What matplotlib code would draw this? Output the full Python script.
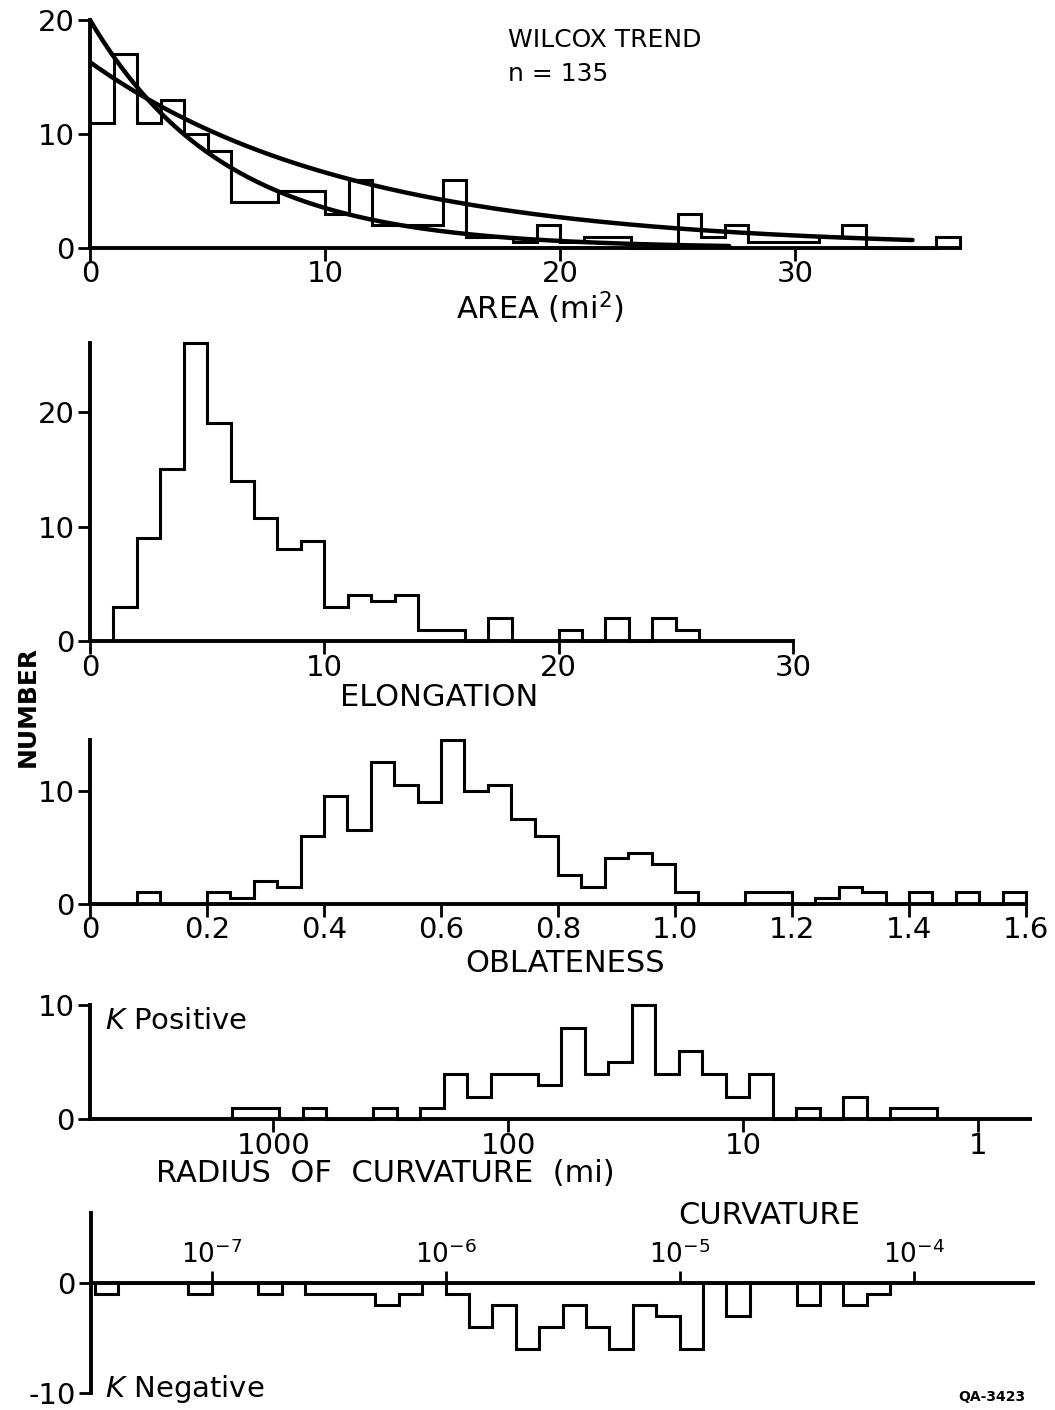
import numpy as np
import matplotlib
matplotlib.use('Agg')
import matplotlib.pyplot as plt
from matplotlib.ticker import FixedLocator, FixedFormatter, NullLocator

# ---- data -------------------------------------------------------------
# area histogram, 1 mi^2 classes from 0 to 37
area_edges = list(range(0, 38))
area_counts = [11, 17, 11, 13, 10, 8.5, 4, 4, 5, 5, 3, 6, 2, 2, 2, 6, 1, 1, 0.5, 2,
               0.5, 1, 1, 0, 0, 3, 1, 2, 0.5, 0.5, 0.5, 1, 2, 0, 0, 0, 1]
# fitted exponential trends: (value at 0, decay per mi^2, last area drawn)
area_fit_upper = (16.3, 0.09, 35.0)
area_fit_lower = (20.0, 0.174, 27.2)

# elongation histogram, unit classes from 1 to 26
elong_edges = list(range(1, 27))
elong_counts = [3, 9, 15, 26, 19, 14, 10.7, 8, 8.7, 3, 4, 3.5, 4, 1, 1, 0, 2, 0, 0, 1,
                0, 2, 0, 2, 1]

# oblateness histogram, 0.04 classes from 0 to 1.6
oblate_edges = [round(0.04 * i, 2) for i in range(41)]
oblate_counts = [0, 0, 1, 0, 0, 1, 0.5, 2, 1.5, 6, 9.5, 6.5, 12.5, 10.5, 9, 14.5, 10,
                 10.5, 7.5, 6, 2.5, 1.5, 4, 4.5, 3.5, 1, 0, 0, 1, 1, 0, 0.5, 1.5, 1,
                 0, 1, 0, 1, 0, 1]

# radius of curvature (positive K), tenth-decade classes, log10(mi) from 3.175 down
radius_log_edges = [round(3.175 - 0.1 * i, 3) for i in range(31)]
radius_counts = [1, 1, 0, 1, 0, 0, 1, 0, 1, 4, 2, 4, 4, 3, 8, 4, 5, 10, 4, 6,
                 4, 2, 4, 0, 1, 0, 2, 0, 1, 1]

# curvature (negative K), tenth-decade classes from 10^-7.5 to 10^-4.1
curv_log_edges = [round(-7.5 + 0.1 * i, 2) for i in range(35)]
curv_counts = [-1, 0, 0, 0, -1, 0, 0, -1, 0, -1, -1, -1, -2, -1, 0, -1, -4, -2, -6, -4,
               -2, -4, -6, -2, -3, -6, 0, -3, 0, 0, -2, 0, -2, -1]

radius_ticks = [1000, 100, 10, 1]
radius_labels = ['1000', '100', '10', '1']
curv_ticks = [1e-7, 1e-6, 1e-5, 1e-4]
curv_labels = ['10$^{-7}$', '10$^{-6}$', '10$^{-5}$', '10$^{-4}$']
oblate_ticks = [0, 0.2, 0.4, 0.6, 0.8, 1.0, 1.2, 1.4, 1.6]
oblate_labels = ['0', '0.2', '0.4', '0.6', '0.8', '1.0', '1.2', '1.4', '1.6']

# ---- style ------------------------------------------------------------
W, H = 1055, 1410
plt.rcParams['font.family'] = ['DejaVu Sans']
plt.rcParams['mathtext.fontset'] = 'dejavusans'
FS_TICK = 21
FS_LABEL = 22
LW_HIST = 2.2
LW_AXIS = 2.8

fig = plt.figure(figsize=(W / 100, H / 100), dpi=100)
fig.patch.set_facecolor('white')


def panel(xlim, px_x, ylim, px_y, xlog=False):
    """Axes whose limits land on the given pixel positions (y measured from top)."""
    rect = [px_x[0] / W, 1 - px_y[0] / H,
            (px_x[1] - px_x[0]) / W, (px_y[0] - px_y[1]) / H]
    ax = fig.add_axes(rect)
    ax.patch.set_alpha(0)
    if xlog:
        ax.set_xscale('log')
    ax.set_xlim(*xlim)
    ax.set_ylim(*ylim)
    for side in ('top', 'right', 'bottom', 'left'):
        ax.spines[side].set_linewidth(LW_AXIS)
        ax.spines[side].set_color('black')
    ax.spines['top'].set_visible(False)
    ax.spines['right'].set_visible(False)
    ax.spines['bottom'].set_position(('data', 0))
    ax.tick_params(length=9, width=2, labelsize=FS_TICK, direction='out')
    ax.tick_params(axis='x', pad=0)
    ax.tick_params(axis='y', pad=2)
    ax.xaxis.set_minor_locator(NullLocator())
    ax.yaxis.set_minor_locator(NullLocator())
    return ax


def ftext(x, y, s, **kw):
    kw.setdefault('fontsize', FS_LABEL)
    kw.setdefault('va', 'center')
    fig.text(x / W, 1 - y / H, s, **kw)


# ---- area --------------------------------------------------------------
ax1 = panel((0, 37.5), (90, 971.25), (-1.5, 21), (265.1, 8.6))
ax1.stairs(area_counts, area_edges, color='black', lw=LW_HIST, baseline=0)
for a0, k, x_end in (area_fit_upper, area_fit_lower):
    xs = np.linspace(0, x_end, 200)
    ax1.plot(xs, a0 * np.exp(-k * xs), color='black', lw=3.2, solid_capstyle='round')
ax1.spines['bottom'].set_bounds(0, 37)
ax1.spines['left'].set_bounds(0, 20)
ax1.set_xticks([0, 10, 20, 30])
ax1.set_yticks([0, 10, 20])
ftext(508, 40, 'WILCOX TREND', ha='left', fontsize=18)
ftext(508, 74, 'n = 135', ha='left', fontsize=18)
ftext(540, 308, 'AREA (mi$^2$)', ha='center')

# ---- elongation --------------------------------------------------------
ax2 = panel((0, 31), (90, 816.3), (-1.5, 27), (658.2, 331.85))
ax2.stairs(elong_counts, elong_edges, color='black', lw=LW_HIST, baseline=0)
ax2.spines['bottom'].set_bounds(0, 30)
ax2.spines['left'].set_bounds(0, 26)
ax2.set_xticks([0, 10, 20, 30])
ax2.set_yticks([0, 10, 20])
ftext(439, 697, 'ELONGATION', ha='center')

ftext(28, 706, 'NUMBER', ha='center', rotation=90, fontweight='bold', fontsize=18)

# ---- oblateness --------------------------------------------------------
ax3 = panel((0, 1.65), (90, 1055.25), (-1.5, 15), (920.45, 734))
ax3.stairs(oblate_counts, oblate_edges, color='black', lw=LW_HIST, baseline=0)
ax3.spines['bottom'].set_bounds(0, 1.6)
ax3.spines['left'].set_bounds(0, 14.5)
ax3.xaxis.set_major_locator(FixedLocator(oblate_ticks))
ax3.xaxis.set_major_formatter(FixedFormatter(oblate_labels))
ax3.set_yticks([0, 10])
ftext(565, 963, 'OBLATENESS', ha='center')

# ---- radius of curvature (K positive) ------------------------------------
ax4 = panel((10 ** 3.78, 10 ** -0.22), (90, 1030), (-1.5, 11), (1136.4, 993.9), xlog=True)
r_edges = [10 ** e for e in radius_log_edges[::-1]]
ax4.stairs(radius_counts[::-1], r_edges, color='black', lw=LW_HIST, baseline=0)
ax4.spines['bottom'].set_bounds(10 ** 3.78, 10 ** -0.22)
ax4.spines['left'].set_bounds(0, 10)
ax4.xaxis.set_major_locator(FixedLocator(radius_ticks))
ax4.xaxis.set_major_formatter(FixedFormatter(radius_labels))
ax4.xaxis.set_minor_locator(NullLocator())
ax4.set_yticks([0, 10])
ftext(105, 1021, r'$\mathit{K}$ Positive', ha='left', fontsize=21)
ftext(385, 1173, 'RADIUS  OF  CURVATURE  (mi)', ha='center')

# ---- curvature (K negative) --------------------------------------------
ax5 = panel((10 ** -7.515, 10 ** -3.49), (91, 1033), (-11, 7), (1404, 1206), xlog=True)
c_edges = [10 ** e for e in curv_log_edges]
ax5.stairs(curv_counts, c_edges, color='black', lw=LW_HIST, baseline=0)
ax5.spines['bottom'].set_visible(False)
ax5.spines['top'].set_visible(True)
ax5.spines['top'].set_position(('data', 0))
ax5.spines['left'].set_bounds(-10, 6.4)
ax5.xaxis.tick_top()
ax5.xaxis.set_major_locator(FixedLocator(curv_ticks))
ax5.xaxis.set_major_formatter(FixedFormatter(curv_labels))
ax5.xaxis.set_minor_locator(NullLocator())
ax5.tick_params(axis='x', pad=1, labelsize=19)
ax5.set_yticks([0, -10])
ax5.set_yticklabels(['0', '-10'])
ftext(769, 1216, 'CURVATURE', ha='center')
ftext(105, 1389, r'$\mathit{K}$ Negative', ha='left', fontsize=21)
ftext(1025, 1397, 'QA-3423', ha='right', fontsize=10, fontweight='bold')

fig.savefig('out.png', dpi=100, facecolor='white')
